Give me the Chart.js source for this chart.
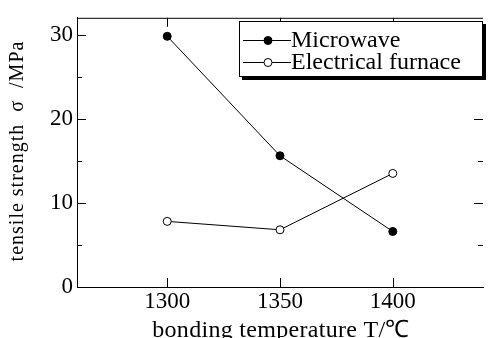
<!DOCTYPE html>
<html>
<head>
<meta charset="utf-8">
<script src="https://cdn.jsdelivr.net/npm/chart.js@4"></script>
<style>
  html, body { margin: 0; padding: 0; background: #fff; }
  #wrap { width: 488px; height: 338px; }
</style>
</head>
<body>
<div id="wrap"><canvas id="chart" width="488" height="338"></canvas></div>
<script>
const temperatures = [1300, 1350, 1400];
const microwave = [29.8, 15.6, 6.6];
const furnace = [7.8, 6.8, 13.5];
const xTicks = [1300, 1350, 1400];
const yTicks = [0, 10, 20, 30];
const yMinorTicks = [5, 15, 25];
const xTitle = "bonding temperature T/℃";
const yTitle = "tensile strength  σ  /MPa";

const serif = "'Liberation Serif', 'Times New Roman', serif";

// top line, inward ticks, axis titles and the legend
const framePlugin = {
    id: "frame",
    afterDraw(chart) {
        const ctx = chart.ctx;
        const a = chart.chartArea;
        const x = chart.scales.x;
        const y = chart.scales.y;
        ctx.save();
        ctx.strokeStyle = "#000";
        ctx.lineWidth = 1;
        ctx.beginPath();
        ctx.moveTo(a.left, a.top + 0.5);
        ctx.lineTo(a.right, a.top + 0.5);
        xTicks.forEach((v) => {
            const px = Math.round(x.getPixelForValue(v)) + 0.5;
            ctx.moveTo(px, a.bottom);
            ctx.lineTo(px, a.bottom - 9);
            ctx.moveTo(px, a.top);
            ctx.lineTo(px, a.top + 9);
        });
        yTicks.forEach((v) => {
            const py = Math.round(y.getPixelForValue(v)) + 0.5;
            ctx.moveTo(a.left, py);
            ctx.lineTo(a.left + 9, py);
            ctx.moveTo(a.right, py);
            ctx.lineTo(a.right - 9, py);
        });
        yMinorTicks.forEach((v) => {
            const py = Math.round(y.getPixelForValue(v)) + 0.5;
            ctx.moveTo(a.left, py);
            ctx.lineTo(a.left + 5, py);
            ctx.moveTo(a.right, py);
            ctx.lineTo(a.right - 5, py);
        });
        ctx.stroke();

        // axis titles
        ctx.fillStyle = "#000";
        ctx.textBaseline = "alphabetic";
        ctx.textAlign = "center";
        ctx.font = "24px " + serif;
        ctx.letterSpacing = "0.3px";
        ctx.fillText(xTitle, 281, 337);
        ctx.save();
        ctx.translate(23, 151);
        ctx.rotate(-Math.PI / 2);
        ctx.font = "20px " + serif;
        ctx.letterSpacing = "1px";
        ctx.fillText(yTitle, 0, 0);
        ctx.restore();
        ctx.letterSpacing = "0px";

        // legend box with drop shadow
        const bx = 239, by = 21, bw = 244, bh = 56;
        ctx.fillStyle = "#000";
        ctx.fillRect(bx + 3, by + 3, bw, bh);
        ctx.fillStyle = "#fff";
        ctx.fillRect(bx, by, bw, bh);
        ctx.strokeRect(bx + 0.5, by + 0.5, bw - 1, bh - 1);

        ctx.font = "24px " + serif;
        ctx.textAlign = "left";
        chart.data.datasets.forEach((ds, i) => {
            const ly = 40 + i * 22;
            ctx.beginPath();
            ctx.moveTo(243, ly + 0.5);
            ctx.lineTo(291, ly + 0.5);
            ctx.stroke();
            ctx.beginPath();
            ctx.arc(268, ly + 0.5, 4, 0, Math.PI * 2);
            ctx.fillStyle = ds.pointBackgroundColor;
            ctx.fill();
            ctx.stroke();
            ctx.fillStyle = "#000";
            ctx.fillText(ds.label, 291, ly + 7);
        });
        ctx.restore();
    },
};

new Chart(document.getElementById("chart"), {
    type: "line",
    data: {
        datasets: [
            {
                label: "Microwave",
                data: temperatures.map((t, i) => ({ x: t, y: microwave[i] })),
                borderColor: "#000",
                borderWidth: 1,
                pointRadius: 4,
                pointBackgroundColor: "#000",
                pointBorderColor: "#000",
                pointBorderWidth: 1,
            },
            {
                label: "Electrical furnace",
                data: temperatures.map((t, i) => ({ x: t, y: furnace[i] })),
                borderColor: "#000",
                borderWidth: 1,
                pointRadius: 4,
                pointBackgroundColor: "#fff",
                pointBorderColor: "#000",
                pointBorderWidth: 1,
            },
        ],
    },
    options: {
        responsive: false,
        animation: false,
        layout: { padding: { top: 16, right: 0, left: 0, bottom: 0 } },
        plugins: { legend: { display: false }, tooltip: { enabled: false } },
        scales: {
            x: {
                type: "linear",
                min: 1260,
                max: 1440,
                afterBuildTicks: (scale) => {
                    scale.ticks = xTicks.map((v) => ({ value: v }));
                },
                afterFit: (scale) => {
                    scale.height = 51;
                },
                grid: { display: false, drawTicks: false, tickLength: 0 },
                border: { display: true, color: "#000", width: 1 },
                ticks: {
                    color: "#000",
                    font: { family: serif, size: 23 },
                    padding: 1,
                    maxRotation: 0,
                    callback: (v) => String(v),
                },
            },
            y: {
                min: 0,
                max: 32,
                afterBuildTicks: (scale) => {
                    scale.ticks = yTicks.map((v) => ({ value: v }));
                },
                afterFit: (scale) => {
                    scale.width = 77;
                },
                grid: { display: false, drawTicks: false, tickLength: 0 },
                border: { display: true, color: "#000", width: 1 },
                ticks: {
                    color: "#000",
                    font: { family: serif, size: 23 },
                    padding: 4,
                    callback: (v) => String(v),
                },
            },
        },
    },
    plugins: [framePlugin],
});
</script>
</body>
</html>
